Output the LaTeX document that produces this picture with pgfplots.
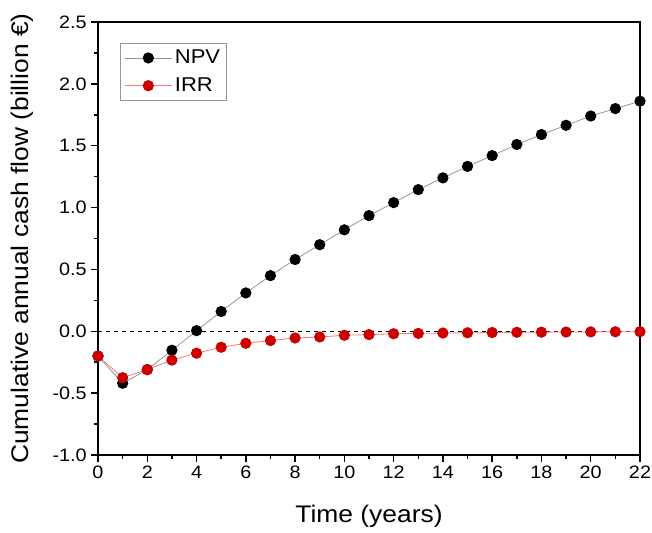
\documentclass[border=0pt]{standalone}
\usepackage{fontspec}
\setmainfont{Liberation Sans}[FakeStretch=1.1]
\usepackage{pgfplots}
\pgfplotsset{compat=1.18}
\definecolor{mred}{RGB}{204,0,0}
\definecolor{lred}{RGB}{250,120,120}
\definecolor{lgray}{RGB}{150,150,150}
\begin{document}
\begin{tikzpicture}
\begin{axis}[
  scale only axis,
  width=406.5pt, height=324.75pt,
  xmin=0, xmax=22, ymin=-1.0, ymax=2.5,
  xtick={0,2,...,22}, ytick={-1.0,-0.5,...,2.5},
  minor x tick num=1, minor y tick num=1,
  xtick pos=bottom, ytick pos=left,
  tick align=outside,
  major tick length=5pt, minor tick length=3pt,
  every tick/.style={black, line width=1.1pt},
  axis line style={line width=1.4pt},
  /pgf/number format/assume math mode=true,
  yticklabel style={/pgf/number format/.cd, fixed, fixed zerofill, precision=1},
  tick label style={font=\fontsize{13.5pt}{16pt}\selectfont},
  label style={font=\fontsize{18pt}{21pt}\selectfont},
  xlabel={Time (years)},
  ylabel={Cumulative annual cash flow (billion €)},
  xlabel style={at={(axis description cs:0.5,0)}, anchor=center, yshift=-46pt},
  ylabel style={at={(axis description cs:0,0.5)}, anchor=center, yshift=57pt},
  clip=false,
  legend style={at={(0.0406,0.9515)}, anchor=north west, draw=lgray, line width=0.6pt,
    font=\fontsize{15pt}{18pt}\selectfont, inner sep=3pt, row sep=5pt,
    /tikz/every even column/.append style={column sep=2pt}},
  legend image code/.code={\draw[mark repeat=2,mark phase=2] plot coordinates {(0cm,0cm) (0.62cm,0cm) (1.24cm,0cm)};},
  legend cell align=left,
]
\addplot[black, dashed, line width=0.6pt, forget plot] coordinates {(0,0) (22,0)};
\addplot[color=lgray, line width=0.6pt, mark=*, mark size=3.9pt, mark options={fill=black, draw=black}] coordinates {
(0,-0.20) (1,-0.42) (2,-0.31) (3,-0.153) (4,0.005) (5,0.16) (6,0.31) (7,0.45) (8,0.58) (9,0.70) (10,0.82) (11,0.935)
(12,1.04) (13,1.145) (14,1.24) (15,1.333) (16,1.42) (17,1.51) (18,1.59) (19,1.665) (20,1.74) (21,1.80) (22,1.86)};
\addlegendentry{NPV}
\addplot[color=lred, line width=0.6pt, mark=*, mark size=3.9pt, mark options={fill=mred, draw=mred}] coordinates {
(0,-0.20) (1,-0.375) (2,-0.31) (3,-0.233) (4,-0.177) (5,-0.129) (6,-0.097) (7,-0.075) (8,-0.054) (9,-0.046) (10,-0.032) (11,-0.027)
(12,-0.02) (13,-0.017) (14,-0.014) (15,-0.012) (16,-0.01) (17,-0.008) (18,-0.007) (19,-0.006) (20,-0.005) (21,-0.004) (22,-0.003)};
\addlegendentry{IRR}
\end{axis}
\pgfresetboundingbox
\path (-73.5pt,-57.75pt) rectangle (415.5pt,341.25pt);
\end{tikzpicture}
\end{document}
